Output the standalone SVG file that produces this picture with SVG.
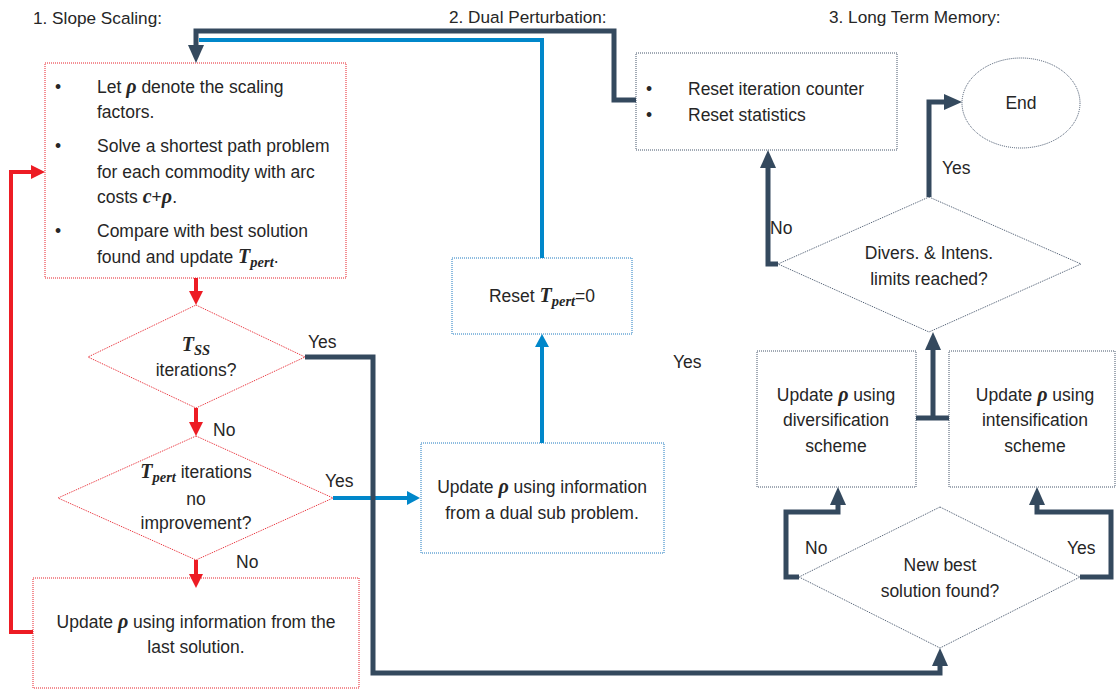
<svg xmlns="http://www.w3.org/2000/svg" width="1117" height="689" viewBox="0 0 1117 689">
  <style>
    text { font-family: "Liberation Sans", Arial, sans-serif; font-size: 17.5px; fill: #262626; }
    .mid { text-anchor: middle; }
    .title { font-size: 17.2px; }
    .m { font-family: "Liberation Serif", "Times New Roman", serif; font-weight: bold; font-style: italic; font-size: 20px; }
    .sub { font-family: "Liberation Serif", "Times New Roman", serif; font-weight: bold; font-style: italic; font-size: 14.5px; }
    .nred { fill: #ffffff; stroke: #E8202A; stroke-width: 1; stroke-dasharray: 1 1; }
    .nblue { fill: #ffffff; stroke: #1F7BC0; stroke-width: 1; stroke-dasharray: 1 1; }
    .ndark { fill: #ffffff; stroke: #44546A; stroke-width: 1; stroke-dasharray: 1 1; }
    .cred { fill: none; stroke: #ED1C24; stroke-width: 4; }
    .cblue { fill: none; stroke: #0087CA; stroke-width: 4; }
    .cdark { fill: none; stroke: #34495E; stroke-width: 5; }
  </style>
  <defs>
    <marker id="ahRed" markerUnits="userSpaceOnUse" markerWidth="14" markerHeight="14" refX="0" refY="7" orient="auto">
      <path d="M0,0 L14,7 L0,14 z" fill="#ED1C24"/>
    </marker>
    <marker id="ahBlue" markerUnits="userSpaceOnUse" markerWidth="13" markerHeight="14" refX="0" refY="7" orient="auto">
      <path d="M0,0 L13,7 L0,14 z" fill="#0087CA"/>
    </marker>
    <marker id="ahDark" markerUnits="userSpaceOnUse" markerWidth="18" markerHeight="16" refX="0" refY="8" orient="auto">
      <path d="M0,0 L18,8 L0,16 z" fill="#34495E"/>
    </marker>
  </defs>

  <rect width="1117" height="689" fill="#ffffff"/>

  <!-- section headings -->
  <g id="headings">
    <text class="title" x="33" y="24">1. Slope Scaling:</text>
    <text class="title" x="449" y="23">2. Dual Perturbation:</text>
    <text class="title" x="829" y="23">3. Long Term Memory:</text>
  </g>

  <!-- slope scaling -->
  <g id="ss-main">
    <rect class="nred" x="45" y="63" width="301" height="215"/>
    <text x="55" y="93">•</text>
    <text x="97" y="93">Let <tspan class="m">ρ</tspan> denote the scaling</text>
    <text x="97" y="118">factors.</text>
    <text x="55" y="152">•</text>
    <text x="97" y="152">Solve a shortest path problem</text>
    <text x="97" y="178">for each commodity with arc</text>
    <text x="97" y="203">costs <tspan class="m">c</tspan>+<tspan class="m">ρ</tspan>.</text>
    <text x="55" y="237">•</text>
    <text x="97" y="237">Compare with best solution</text>
    <text x="97" y="263">found and update <tspan class="m">T</tspan><tspan class="sub" dy="4">pert</tspan><tspan dy="-4">.</tspan></text>
  </g>

  <g id="ss-iter">
    <polygon class="nred" points="196,305 305,357 196,408 88,357"/>
    <text class="mid" x="196" y="351"><tspan class="m">T</tspan><tspan class="sub" dy="4">SS</tspan></text>
    <text class="mid" x="196" y="376">iterations?</text>
  </g>

  <g id="ss-noimp">
    <polygon class="nred" points="196,436 333,498 196,560 58,498"/>
    <text class="mid" x="196" y="478"><tspan class="m">T</tspan><tspan class="sub" dy="4">pert</tspan><tspan dy="-4"> iterations</tspan></text>
    <text class="mid" x="196" y="505">no</text>
    <text class="mid" x="196" y="529">improvement?</text>
  </g>

  <g id="ss-update">
    <rect class="nred" x="33" y="578" width="326" height="110"/>
    <text class="mid" x="196" y="628">Update <tspan class="m">ρ</tspan> using information from the</text>
    <text class="mid" x="196" y="653">last solution.</text>
  </g>

  <!-- dual perturbation -->
  <g id="dp-reset">
    <rect class="nblue" x="452" y="258" width="180" height="76"/>
    <text class="mid" x="542" y="302">Reset <tspan class="m">T</tspan><tspan class="sub" dy="4">pert</tspan><tspan dy="-4">=0</tspan></text>
  </g>

  <g id="dp-update">
    <rect class="nblue" x="421" y="443" width="243" height="110"/>
    <text class="mid" x="542" y="493">Update <tspan class="m">ρ</tspan> using information</text>
    <text class="mid" x="542" y="519">from a dual sub problem.</text>
  </g>

  <!-- long term memory -->
  <g id="ltm-reset">
    <rect class="ndark" x="636" y="53" width="261" height="97"/>
    <text x="646" y="95">•</text>
    <text x="688" y="95">Reset iteration counter</text>
    <text x="646" y="121">•</text>
    <text x="688" y="121">Reset statistics</text>
  </g>

  <g id="ltm-end">
    <ellipse class="ndark" cx="1021" cy="103" rx="59" ry="45"/>
    <text class="mid" x="1021" y="109">End</text>
  </g>

  <g id="ltm-limits">
    <polygon class="ndark" points="929,197 1081,264 929,332 778,264"/>
    <text class="mid" x="929" y="259">Divers. &amp; Intens.</text>
    <text class="mid" x="929" y="285">limits reached?</text>
  </g>

  <g id="ltm-divers">
    <rect class="ndark" x="757" y="351" width="159" height="136"/>
    <text class="mid" x="836" y="401">Update <tspan class="m">ρ</tspan> using</text>
    <text class="mid" x="836" y="426">diversification</text>
    <text class="mid" x="836" y="452">scheme</text>
  </g>

  <g id="ltm-intens">
    <rect class="ndark" x="949" y="351" width="166" height="136"/>
    <text class="mid" x="1035" y="401">Update <tspan class="m">ρ</tspan> using</text>
    <text class="mid" x="1035" y="426">intensification</text>
    <text class="mid" x="1035" y="452">scheme</text>
  </g>

  <g id="ltm-best">
    <polygon class="ndark" points="940,507 1080,577 940,648 799,577"/>
    <text class="mid" x="940" y="571">New best</text>
    <text class="mid" x="940" y="597">solution found?</text>
  </g>

  <!-- connectors -->
  <g id="connectors">
    <!-- slope scaling loop (red) -->
    <path class="cred" d="M196,278 V291" marker-end="url(#ahRed)"/>
    <path class="cred" d="M196,408 V422" marker-end="url(#ahRed)"/>
    <path class="cred" d="M196,560 V574" marker-end="url(#ahRed)"/>
    <path class="cred" d="M33,632 H11 V172 H31" marker-end="url(#ahRed)"/>
    <!-- dual perturbation (blue) -->
    <path class="cblue" d="M333,498 H407" marker-end="url(#ahBlue)"/>
    <path class="cblue" d="M542,443 V347" marker-end="url(#ahBlue)"/>
    <path class="cblue" d="M542,258 V40 H199"/>
    <!-- long term memory (dark) -->
    <path class="cdark" d="M636,100 H614 V31 H196 V45" marker-end="url(#ahDark)"/>
    <path class="cdark" d="M305,357 H373 V673 H940 V666" marker-end="url(#ahDark)"/>
    <path class="cdark" d="M929,197 V102 H944" marker-end="url(#ahDark)"/>
    <path class="cdark" d="M778,264 H768 V168" marker-end="url(#ahDark)"/>
    <path class="cdark" d="M916,418 H949"/>
    <path class="cdark" d="M933,418 V350" marker-end="url(#ahDark)"/>
    <path class="cdark" d="M799,577 H786 V512 H838 V505" marker-end="url(#ahDark)"/>
    <path class="cdark" d="M1080,577 H1111 V512 H1037 V505" marker-end="url(#ahDark)"/>
  </g>

  <!-- connector labels -->
  <g id="labels">
    <text x="308" y="348">Yes</text>
    <text x="213" y="436">No</text>
    <text x="325" y="487">Yes</text>
    <text x="236" y="568">No</text>
    <text x="673" y="368">Yes</text>
    <text x="770" y="234">No</text>
    <text x="942" y="174">Yes</text>
    <text x="805" y="554">No</text>
    <text x="1067" y="554">Yes</text>
  </g>
</svg>
